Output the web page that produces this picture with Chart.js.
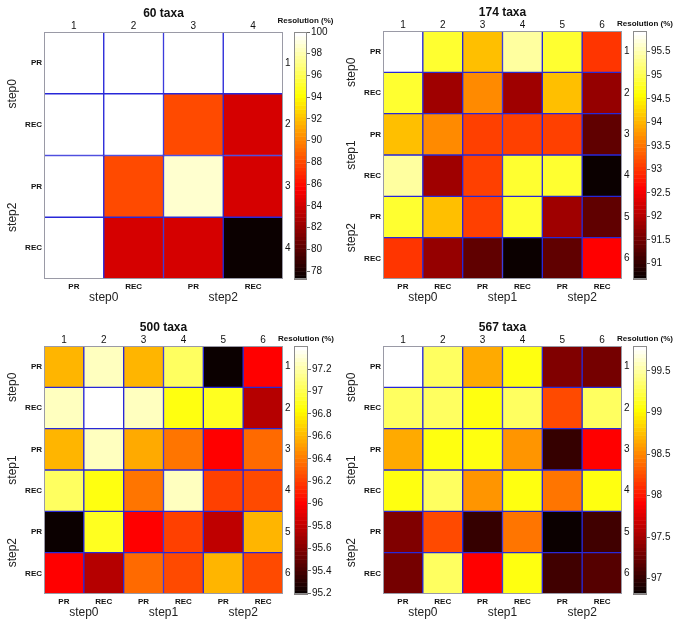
<!DOCTYPE html>
<html><head><meta charset="utf-8">
<script src="https://cdn.jsdelivr.net/npm/chart.js@4.4.1/dist/chart.umd.min.js"></script>
<style>
html,body{margin:0;padding:0;background:#fff;}
body{width:685px;height:622px;position:relative;overflow:hidden;}
canvas{position:absolute;}
</style></head><body>
<script>
// ---------------- data ----------------
const titles = ['60 taxa', '174 taxa', '500 taxa', '567 taxa'];
const methodLabels4 = ['PR', 'REC', 'PR', 'REC'];
const methodLabels6 = ['PR', 'REC', 'PR', 'REC', 'PR', 'REC'];
const indexLabels4 = ['1', '2', '3', '4'];
const indexLabels6 = ['1', '2', '3', '4', '5', '6'];
const stepGroups60 = ['step0', 'step2'];
const stepGroups = ['step0', 'step1', 'step2'];
const colorbarTitle = 'Resolution (%)';

const res60 = [
  [100, 100, 100, 100],
  [100, 100, 88.2, 84.1],
  [100, 88.2, 98.6, 84.1],
  [100, 84.1, 84.1, 77.4]
];
const res174 = [
  [95.94, 94.80, 94.05, 95.40, 94.80, 93.05],
  [94.80, 91.85, 93.65, 91.85, 94.05, 91.80],
  [94.05, 93.65, 93.10, 93.10, 93.10, 91.35],
  [95.40, 91.85, 93.10, 94.80, 94.80, 90.72],
  [94.80, 94.05, 93.10, 94.80, 91.85, 91.35],
  [93.05, 91.80, 91.35, 90.72, 91.35, 92.60]
];
const res500 = [
  [96.58, 97.25, 96.60, 97.05, 95.20, 96.01],
  [97.25, 97.40, 97.24, 96.88, 96.90, 95.78],
  [96.60, 97.24, 96.57, 96.39, 95.99, 96.35],
  [97.05, 96.88, 96.39, 97.26, 96.22, 96.24],
  [95.20, 96.90, 95.99, 96.22, 95.79, 96.58],
  [96.01, 95.78, 96.35, 96.24, 96.58, 96.25]
];
const res567 = [
  [99.80, 99.32, 98.68, 99.06, 97.36, 97.30],
  [99.32, 99.30, 99.06, 99.33, 98.24, 99.32],
  [98.68, 99.06, 99.08, 98.58, 97.03, 97.92],
  [99.06, 99.33, 98.58, 99.08, 98.44, 99.08],
  [97.36, 98.24, 97.03, 98.44, 96.82, 97.05],
  [97.30, 99.32, 97.92, 99.08, 97.05, 97.17]
];

const cbRange60 = [77.27, 100];
const cbRange174 = [90.67, 95.94];
const cbRange500 = [95.195, 97.405];
const cbRange567 = [96.815, 99.80];
const cbTicks60 = [78, 80, 82, 84, 86, 88, 90, 92, 94, 96, 98, 100];
const cbTicks174 = [91, 91.5, 92, 92.5, 93, 93.5, 94, 94.5, 95, 95.5];
const cbTicks500 = [95.2, 95.4, 95.6, 95.8, 96, 96.2, 96.4, 96.6, 96.8, 97, 97.2];
const cbTicks567 = [97, 97.5, 98, 98.5, 99, 99.5];

// ---------------- layout (pixel boxes) ----------------
const layouts = [
  {plot: [44, 32, 283, 279], cb: [294, 307], resDy: -11.5},
  {plot: [383, 31, 622, 279], cb: [633, 647], resDy: -7},
  {plot: [44, 346, 283, 594], cb: [294, 308], resDy: -7.5},
  {plot: [383, 346, 622, 594], cb: [633, 647], resDy: -7.5}
];

const FONT = '"Liberation Sans", Arial, Helvetica, sans-serif';
Chart.defaults.font.family = FONT;
Chart.defaults.color = '#111';

// MATLAB "hot" colormap, 64 levels
const HOT_N = 64;
function hotLevel(i) {
  const k = i + 1;
  const c = x => Math.max(0, Math.min(1, x));
  const r = c(k / 24), g = c((k - 24) / 24), b = c((k - 48) / 16);
  return 'rgb(' + Math.round(r * 255) + ',' + Math.round(g * 255) + ',' + Math.round(b * 255) + ')';
}
function hot(v, min, max) {
  const t = (v - min) / (max - min);
  const i = Math.max(0, Math.min(HOT_N - 1, Math.floor(t * HOT_N)));
  return hotLevel(i);
}

const groupLabelPlugin = {
  id: 'groupLabels',
  afterDraw(chart, args, opts) {
    const {ctx, chartArea} = chart;
    const xs = chart.scales.x, ys = chart.scales.y;
    ctx.save();
    ctx.strokeStyle = '#9a9aa6';
    ctx.lineWidth = 1;
    ctx.strokeRect(chartArea.left + 0.5, chartArea.top + 0.5,
      chartArea.right - chartArea.left - 1, chartArea.bottom - chartArea.top - 1);
    ctx.font = '12px ' + FONT;
    ctx.fillStyle = '#222';
    ctx.textAlign = 'center';
    ctx.textBaseline = 'middle';
    opts.groups.forEach((g, k) => {
      const a = k * opts.span, b = a + opts.span - 1;
      const cx = (xs.getPixelForValue(a) + xs.getPixelForValue(b)) / 2;
      ctx.fillText(g, cx, chartArea.bottom + opts.dyBottom);
      const cy = (ys.getPixelForValue(a + 0.5) + ys.getPixelForValue(b + 0.5)) / 2;
      ctx.save();
      ctx.translate(chartArea.left + opts.dxLeft, cy);
      ctx.rotate(-Math.PI / 2);
      ctx.fillText(g, 0, 0);
      ctx.restore();
    });
    ctx.restore();
  }
};

const colorbarPlugin = {
  id: 'colorbar',
  beforeDatasetsDraw(chart, args, opts) {
    const {ctx, chartArea} = chart;
    const ys = chart.scales.y;
    ctx.save();
    for (let i = 0; i < HOT_N; i++) {
      const v0 = opts.min + (opts.max - opts.min) * i / HOT_N;
      const v1 = opts.min + (opts.max - opts.min) * (i + 1) / HOT_N;
      const y0 = ys.getPixelForValue(v0), y1 = ys.getPixelForValue(v1);
      ctx.fillStyle = hotLevel(i);
      ctx.fillRect(chartArea.left, y1, chartArea.right - chartArea.left, y0 - y1 + 0.5);
    }
    ctx.strokeStyle = '#8c8c8c';
    ctx.lineWidth = 1;
    ctx.strokeRect(chartArea.left + 0.5, chartArea.top + 0.5,
      chartArea.right - chartArea.left - 1, chartArea.bottom - chartArea.top - 1);
    ctx.font = 'bold 8px ' + FONT;
    ctx.fillStyle = '#111';
    ctx.textAlign = 'center';
    ctx.textBaseline = 'middle';
    ctx.fillText(opts.title, (chartArea.left + chartArea.right) / 2 + 5, chartArea.top + opts.dy);
    ctx.restore();
  }
};

function makeCanvas(left, top, w, h) {
  const cv = document.createElement('canvas');
  cv.width = w; cv.height = h;
  cv.style.left = left + 'px'; cv.style.top = top + 'px';
  document.body.appendChild(cv);
  return cv;
}

function makePanel(p, lay) {
  const [L, T, R, B] = lay.plot;
  const n = p.values.length;
  const [cmin, cmax] = p.range;
  const hidden = {display: false, drawTicks: false};
  const cv = makeCanvas(L - 44, T - 32, (R - L) + 44 + 12, (B - T) + 32 + 31);
  new Chart(cv, {
    type: 'bar',
    data: {
      labels: p.colLabels,
      datasets: p.values.map((row, i) => ({
        data: row.map(() => [i, i + 1]),
        backgroundColor: row.map(v => hot(v, cmin, cmax)),
        borderColor: '#2828d8',
        borderWidth: 1,
        borderSkipped: false,
        grouped: false,
        barPercentage: 1,
        categoryPercentage: 1
      }))
    },
    options: {
      responsive: false, animation: false, events: [],
      layout: {padding: 0},
      plugins: {
        legend: {display: false}, tooltip: {enabled: false},
        groupLabels: {groups: p.groups, span: 2, dyBottom: 19, dxLeft: -31}
      },
      scales: {
        x: {
          position: 'bottom', offset: true, grid: hidden, border: {display: false},
          ticks: {font: {size: 8, weight: 'bold'}, padding: 3, maxRotation: 0, autoSkip: false},
          afterFit: s => { s.height = 31; }
        },
        x2: {
          type: 'category', labels: p.topLabels, position: 'top', display: true, offset: true,
          grid: hidden, border: {display: false},
          ticks: {font: {size: 10}, padding: 0, maxRotation: 0, autoSkip: false},
          title: {display: true, text: p.title, font: {size: 12, weight: 'bold'}, padding: {top: 6.8, bottom: 0}},
          afterFit: s => { s.height = 32; }
        },
        y: {
          type: 'linear', min: 0, max: n, reverse: true, position: 'left',
          afterBuildTicks: s => { s.ticks = p.rowLabels.map((_, i) => ({value: i + 0.5})); },
          ticks: {callback: (v, i) => p.rowLabels[i], font: {size: 8, weight: 'bold'}, padding: 2, autoSkip: false},
          grid: hidden, border: {display: false},
          afterFit: s => { s.width = 44; }
        },
        y2: {
          type: 'linear', min: 0, max: n, reverse: true, position: 'right', display: true,
          afterBuildTicks: s => { s.ticks = p.rightLabels.map((_, i) => ({value: i + 0.5})); },
          ticks: {callback: (v, i) => p.rightLabels[i], font: {size: 10}, padding: 2, autoSkip: false},
          grid: hidden, border: {display: false},
          afterFit: s => { s.width = 12; }
        }
      }
    },
    plugins: [groupLabelPlugin]
  });

  // colour bar
  const [cL, cR] = lay.cb;
  const cb = makeCanvas(cL - 30, T - 32, 30 + (cR - cL) + 40, (B - T) + 32 + 31);
  new Chart(cb, {
    type: 'bar',
    data: {labels: [''], datasets: []},
    options: {
      responsive: false, animation: false, events: [],
      layout: {padding: {left: 30, top: 32, bottom: 31, right: 0}},
      plugins: {
        legend: {display: false}, tooltip: {enabled: false},
        colorbar: {min: cmin, max: cmax, title: colorbarTitle, dy: lay.resDy}
      },
      scales: {
        x: {display: false},
        y: {
          type: 'linear', position: 'right', min: cmin, max: cmax,
          afterBuildTicks: s => { s.ticks = p.cbTicks.map(v => ({value: v})); },
          ticks: {callback: v => String(v), font: {size: 10}, padding: 1, autoSkip: false},
          grid: {drawOnChartArea: false, drawTicks: true, tickLength: 3, color: '#666'},
          border: {display: false},
          afterFit: s => { s.width = 40; }
        }
      }
    },
    plugins: [colorbarPlugin]
  });
}

const panels = [
  {title: titles[0], values: res60, range: cbRange60, cbTicks: cbTicks60,
   colLabels: methodLabels4, rowLabels: methodLabels4, topLabels: indexLabels4, rightLabels: indexLabels4, groups: stepGroups60},
  {title: titles[1], values: res174, range: cbRange174, cbTicks: cbTicks174,
   colLabels: methodLabels6, rowLabels: methodLabels6, topLabels: indexLabels6, rightLabels: indexLabels6, groups: stepGroups},
  {title: titles[2], values: res500, range: cbRange500, cbTicks: cbTicks500,
   colLabels: methodLabels6, rowLabels: methodLabels6, topLabels: indexLabels6, rightLabels: indexLabels6, groups: stepGroups},
  {title: titles[3], values: res567, range: cbRange567, cbTicks: cbTicks567,
   colLabels: methodLabels6, rowLabels: methodLabels6, topLabels: indexLabels6, rightLabels: indexLabels6, groups: stepGroups}
];
panels.forEach((p, i) => makePanel(p, layouts[i]));
</script>
</body></html>
